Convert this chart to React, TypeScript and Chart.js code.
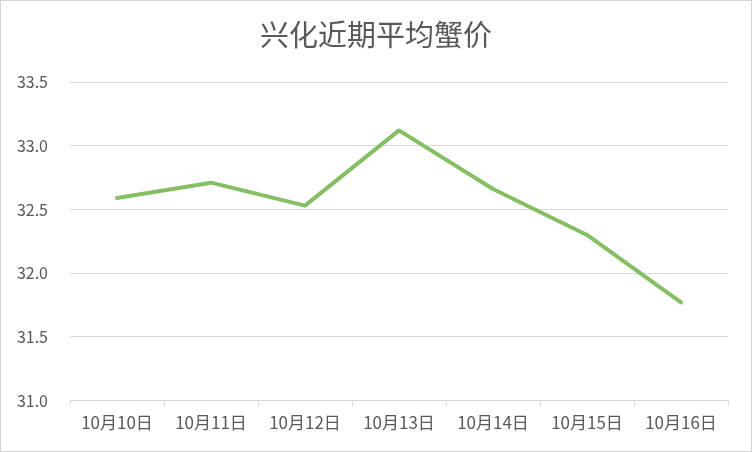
import React, { useEffect, useRef } from "react";
import { Chart, registerables } from "chart.js";

Chart.register(...registerables);

const titleText = "兴化近期平均蟹价";
const categories = ["10月10日", "10月11日", "10月12日", "10月13日", "10月14日", "10月15日", "10月16日"];
const prices = [32.59, 32.71, 32.53, 33.12, 32.66, 32.3, 31.77];
const yMin = 31.0;
const yMax = 33.5;
const yStep = 0.5;

const FONT = "'Noto Sans CJK SC', 'Noto Sans', sans-serif";

const borderPlugin = {
  id: "outerBorder",
  afterDraw(chart: any) {
    const ctx = chart.ctx;
    ctx.save();
    ctx.strokeStyle = "#d4d4d4";
    ctx.lineWidth = 1;
    ctx.strokeRect(0.5, 0.5, chart.width - 1, chart.height - 1);
    ctx.restore();
  },
};

const titlePlugin = {
  id: "centeredTitle",
  afterDraw(chart: any) {
    const ctx = chart.ctx;
    ctx.save();
    ctx.fillStyle = "#595959";
    ctx.font = `normal 29px ${FONT}`;
    ctx.textAlign = "center";
    ctx.textBaseline = "middle";
    ctx.fillText(titleText, chart.width / 2, 35);
    ctx.restore();
  },
};

export default function App() {
  const ref = useRef<HTMLCanvasElement | null>(null);

  useEffect(() => {
    if (!ref.current) return;
    const chart = new Chart(ref.current, {
      type: "line",
      data: {
        labels: categories,
        datasets: [
          {
            data: prices,
            borderColor: "#86bf63",
            borderWidth: 4,
            pointRadius: 0,
            pointHoverRadius: 0,
            tension: 0,
            borderJoinStyle: "round",
            borderCapStyle: "round",
            fill: false,
          },
        ],
      },
      options: {
        responsive: false,
        animation: false,
        maintainAspectRatio: false,
        layout: { padding: { left: 0, right: 24, top: 82, bottom: 12 } },
        plugins: {
          legend: { display: false },
          tooltip: { enabled: false },
          title: { display: false },
        },
        scales: {
          x: {
            offset: true,
            grid: {
              offset: true,
              drawOnChartArea: false,
              drawTicks: true,
              tickLength: 5,
              color: "#d9d9d9",
            },
            border: { display: true, color: "#d9d9d9", width: 1 },
            ticks: {
              color: "#595959",
              font: { family: FONT, size: 17 },
              padding: 7,
              maxRotation: 0,
              autoSkip: false,
            },
          },
          y: {
            min: yMin,
            max: yMax,
            grid: { color: "#d9d9d9", drawTicks: false, lineWidth: 1 },
            border: { display: false },
            ticks: {
              stepSize: yStep,
              color: "#595959",
              font: { family: FONT, size: 16 },
              padding: 22,
              callback: (v: any) => Number(v).toFixed(1),
            },
            afterFit: (scale: any) => {
              scale.width = 70;
            },
          },
        },
      },
      plugins: [borderPlugin, titlePlugin],
    });
    return () => chart.destroy();
  }, []);

  return (
    <div style={{ position: "fixed", left: 0, top: 0, width: 752, height: 452, background: "#fff" }}>
      <canvas ref={ref} width={752} height={452} style={{ display: "block" }} />
    </div>
  );
}
